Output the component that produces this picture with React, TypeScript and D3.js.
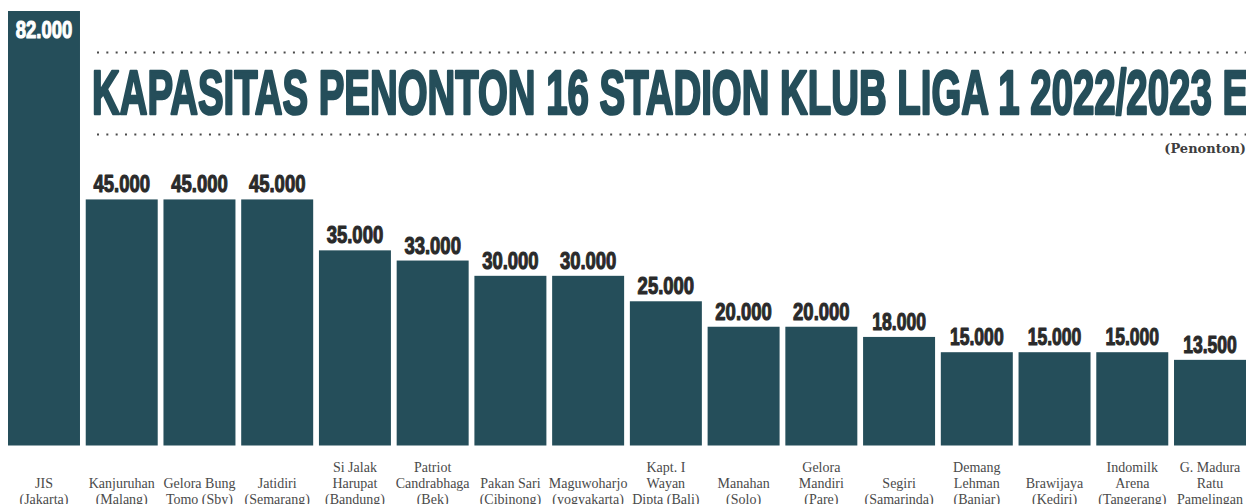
import React from "react";
import * as d3 from "d3";

const stadiums: string[][] = [
  ["JIS", "(Jakarta)"],
  ["Kanjuruhan", "(Malang)"],
  ["Gelora Bung", "Tomo (Sby)"],
  ["Jatidiri", "(Semarang)"],
  ["Si Jalak", "Harupat", "(Bandung)"],
  ["Patriot", "Candrabhaga", "(Bek)"],
  ["Pakan Sari", "(Cibinong)"],
  ["Maguwoharjo", "(yogyakarta)"],
  ["Kapt. I", "Wayan", "Dipta (Bali)"],
  ["Manahan", "(Solo)"],
  ["Gelora", "Mandiri", "(Pare)"],
  ["Segiri", "(Samarinda)"],
  ["Demang", "Lehman", "(Banjar)"],
  ["Brawijaya", "(Kediri)"],
  ["Indomilk", "Arena", "(Tangerang)"],
  ["G. Madura", "Ratu", "Pamelingan"],
];
const capacity: number[] = [
  82000, 45000, 45000, 45000, 35000, 33000, 30000, 30000, 25000, 20000, 20000,
  18000, 15000, 15000, 15000, 13500,
];
const titleText = "KAPASITAS PENONTON 16 STADION KLUB LIGA 1 2022/2023 E";
const unitText = "(Penonton)";

const W = 1246;
const H = 504;
const BAR = "#254E5A";
const baseline = 445.5;

const fmt = (v: number) => d3.format(",")(v).replace(/,/g, ".");
const labelWidth = (s: string) =>
  s.split("").reduce((acc, c) => acc + (c === "." ? 5 : c === "1" ? 7.5 : 10.3), 0);

export default function App() {
  const idx = stadiums.map((_, i) => String(i));
  const x = d3.scaleBand<string>().domain(idx).range([8, W]).paddingInner(0.074).paddingOuter(0);
  const y = d3.scaleLinear().domain([0, 82000]).range([428.6, 11]);
  const condensed = "'Liberation Sans Narrow', 'Liberation Sans', Arial, sans-serif";

  return (
    <svg
      width={W}
      height={H}
      style={{ position: "absolute", left: 0, top: 0, background: "#fff" }}
    >
      <rect x={0} y={0} width={W} height={H} fill="#fff" />
      {/* dotted rules */}
      <line x1={97} x2={W} y1={52.5} y2={52.5} stroke="#4a4a4a" strokeWidth={2} strokeDasharray="2 7.33" />
      <line x1={97} x2={W} y1={134.5} y2={134.5} stroke="#4a4a4a" strokeWidth={2} strokeDasharray="2 7.33" />
      {/* title */}
      <text
        x={92}
        y={114}
        fontFamily={condensed}
        fontWeight="bold"
        fontSize={63}
        fill={BAR}
        stroke={BAR}
        strokeWidth={2.6}
        strokeLinejoin="round"
        textLength={1156}
        lengthAdjust="spacingAndGlyphs"
      >
        {titleText}
      </text>
      <text
        x={W}
        y={153}
        textAnchor="end"
        fontFamily="'DejaVu Serif', serif"
        fontWeight="bold"
        fontSize={13}
        fill="#3d3d3d"
      >
        {unitText}
      </text>
      {/* bars */}
      {capacity.map((v, i) => {
        const bx = x(String(i)) as number;
        const top = y(v);
        return (
          <rect key={"b" + i} x={bx} y={top} width={x.bandwidth()} height={baseline - top} fill={BAR} />
        );
      })}
      {/* value labels */}
      {capacity.map((v, i) => {
        const cx = (x(String(i)) as number) + x.bandwidth() / 2;
        const top = y(v);
        const inside = i === 0;
        const s = fmt(v);
        const col = inside ? "#ffffff" : "#2a2a2a";
        return (
          <text
            key={"v" + i}
            x={cx - labelWidth(s) / 2}
            y={inside ? top + 27 : top - 7}
            fontFamily={condensed}
            fontWeight="bold"
            fontSize={24}
            fill={col}
            stroke={col}
            strokeWidth={1.1}
            strokeLinejoin="round"
            textLength={labelWidth(s)}
            lengthAdjust="spacingAndGlyphs"
          >
            {s}
          </text>
        );
      })}
      {/* category labels */}
      {stadiums.map((lines, i) => {
        const cx = (x(String(i)) as number) + x.bandwidth() / 2;
        const n = lines.length;
        return (
          <text
            key={"c" + i}
            textAnchor="middle"
            fontFamily="'Liberation Serif', 'Times New Roman', serif"
            fontSize={14}
            fill="#4a4a4a"
          >
            {lines.map((ln, j) => (
              <tspan key={j} x={cx} y={503.5 - (n - 1 - j) * 16}>
                {ln}
              </tspan>
            ))}
          </text>
        );
      })}
    </svg>
  );
}
